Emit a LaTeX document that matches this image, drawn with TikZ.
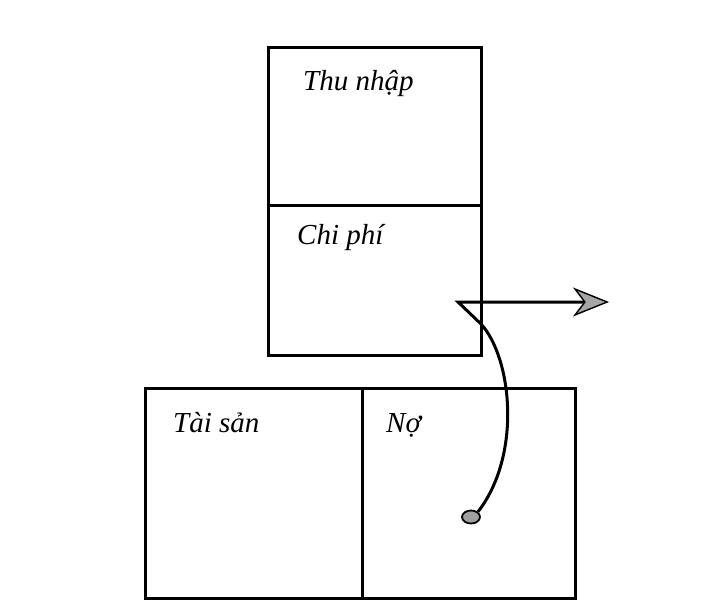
\documentclass[tikz,border=0pt]{standalone}
\usepackage{fontspec}
\setmainfont{Liberation Serif}
\usetikzlibrary{arrows.meta,shapes.geometric}
\begin{document}
\begin{tikzpicture}[x=1pt,y=-1pt,
  box/.style={draw=black,line width=3pt,inner sep=0pt},
  lbl/.style={anchor=base west,inner sep=0pt,font=\fontsize{29}{33}\selectfont\itshape},
  link/.style={draw=black,line width=3pt,line join=miter}]
\useasboundingbox (0,0) rectangle (719,610);
\fill[white] (0,0) rectangle (719,610);
% top stack
\node[box,minimum width=213pt,minimum height=157pt] (income) at (374.5,126.5) {};
\node[box,minimum width=213pt,minimum height=150pt] (expense) at (374.5,280) {};
% bottom pair
\node[box,minimum width=217pt,minimum height=210pt] (assets) at (253.5,493) {};
\node[box,minimum width=213pt,minimum height=210pt] (debt) at (468.5,493) {};
% labels
\node[lbl] (tincome) at (303,90) {Thu nhập};
\node[lbl] (texpense) at (297,244) {Chi phí};
\node[lbl] (tassets) at (173,432) {Tài sản};
\node[lbl] (tdebt) at (386,432) {Nợ};
% connector
\node[ellipse,draw=black,line width=1.8pt,fill=gray!75,minimum width=18pt,minimum height=13pt,inner sep=0pt] (dot) at (471,517) {};
\coordinate (bend) at (481,324);
\coordinate (corner) at (458,302);
\coordinate (tip) at (609,302);
\draw[link,-{Stealth[length=36pt,width=29pt,inset=11pt,fill=gray!70,line width=1.4pt]}]
  (dot.north east) .. controls (522,455) and (512,358) .. (bend) -- (corner) -- (tip);
\end{tikzpicture}
\end{document}
